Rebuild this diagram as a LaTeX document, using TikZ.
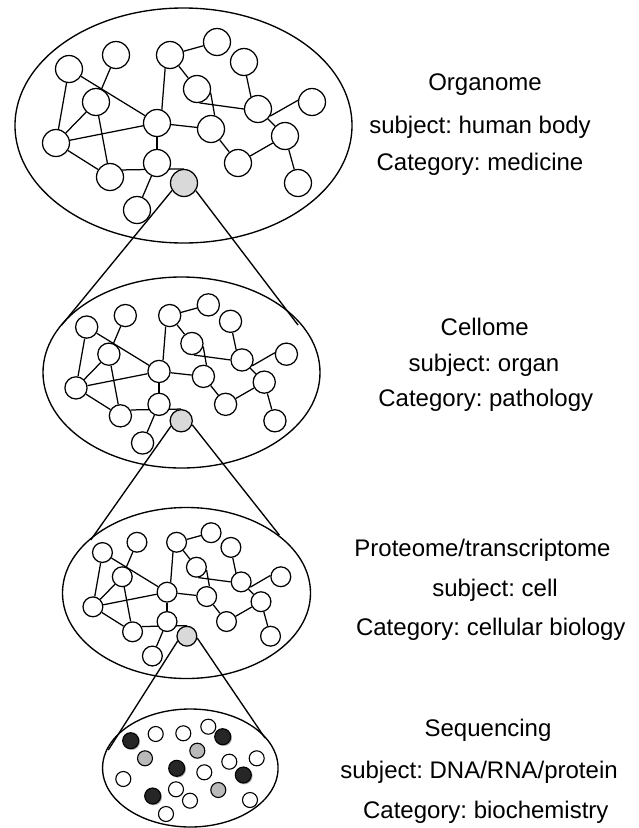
\documentclass[tikz,border=0pt]{standalone}
\usepackage{fontspec}
\setmainfont{Liberation Sans}
\frenchspacing
\usetikzlibrary{shapes.geometric,backgrounds,shadows}
\tikzset{
  netnode/.style={circle, draw=black, line width=1.25pt, fill=white, inner sep=0pt},
  hubnode/.style={netnode, fill=gray!30},
  netedge/.style={line width=1.25pt},
  ell/.style={ellipse, draw=black, line width=1.35pt, inner sep=0pt},
  cone/.style={line width=1.35pt},
  lbl/.style={anchor=base, font=\fontsize{24}{28}\selectfont, inner sep=0pt},
  wdot/.style={circle, draw=black, line width=1.1pt, fill=white, minimum size=15pt, inner sep=0pt},
  gdot/.style={wdot, fill=gray!55},
  bdot/.style={wdot, fill=black!85, minimum size=16pt,
    circular drop shadow={shadow xshift=0.7pt, shadow yshift=-0.7pt, opacity=0.35, fill=black}},
}
% #1 prefix, #2 cx, #3 cy, #4 scale
\newcommand\drawnet[4]{%
 \begin{scope}[shift={(#2,#3)}, scale=#4]
  \foreach \n/\x/\y in {1/-114.5/-56.5, 2/-67.5/-70.5, 3/-13.5/-70.5, 4/33.5/-83.5,
      5/60.5/-63.5, 6/13.5/-36.5, 7/-87.5/-23.5, 8/74.5/-16.5, 9/128.5/-23.5,
      10/-127.5/17.5, 11/-26.5/-2.5, 12/27.5/3.5, 13/101.5/10.5, 14/-26.5/37.5,
      15/54.5/37.5, 16/-73.5/51.5, 18/114.5/57.5, 19/-46.5/84.5} {
    \node[netnode, minimum size={27pt*#4}] (#1\n) at (\x,\y) {};
  }
  \node[hubnode, minimum size={27pt*#4}] (#1g) at (0.5,57.5) {};
  \begin{scope}[on background layer]
    \foreach \a/\b in {1/10, 1/11, 2/7, 7/10, 7/16, 10/11, 10/16, 3/4, 3/6,
        11/12, 11/14, 12/15, 15/13, 13/18, 14/19, 8/13}
      \draw[netedge] (#1\a) -- (#1\b);
    \draw[netedge] (#13.250) -- (#111.70);
    \draw[netedge] (#16.-15) -- (#112.75);
    \draw[netedge] (#16.-80) -- (#18.180);
    \draw[netedge] (#15.-80) -- (#18.120);
    \draw[netedge] (#18.-30) -- (#19.173);
    \draw[netedge] (#116.30) -- (#1g.north);
  \end{scope}
 \end{scope}}
\begin{document}
\begin{tikzpicture}[x=1pt,y=-1pt]
\useasboundingbox (0,0) rectangle (639,828);

% ellipses
\node[ell, minimum width=337pt, minimum height=235pt] (e1) at (183.5,125.5) {};
\node[ell, minimum width=277pt, minimum height=191pt] (e2) at (181.5,372.5) {};
\node[ell, minimum width=248pt, minimum height=171pt] (e3) at (186.5,593) {};
\node[ell, minimum width=175.5pt, minimum height=118pt] (e4) at (190.3,768) {};

% networks
\drawnet{a}{183.5}{125.5}{1}
\drawnet{b}{180.8}{373.5}{0.822}
\drawnet{c}{186.5}{594}{0.734}

% cone lines
\coordinate (c1l) at (61.7,325);
\coordinate (c1r) at (298,325);
\coordinate (c2l) at (90.7,540);
\coordinate (c2r) at (279.3,535);
\coordinate (c3l) at (108.3,750);
\coordinate (c3r) at (265,738);
\draw[cone] (ag.212) -- (c1l);
\draw[cone] (ag.-33) -- (c1r);
\draw[cone] (bg.208) -- (c2l);
\draw[cone] (bg.-20) -- (c2r);
\draw[cone] (cg.208) -- (c3l);
\draw[cone] (cg.-10) -- (c3r);

% molecules
\foreach \n/\x/\y in {1/155.7/734, 2/183.3/733.3, 3/208.3/726.7, 4/229.3/761.7,
    5/256.7/758.3, 6/204.3/772.3, 7/123.3/779, 8/176/789.3, 9/190/800.7,
    10/250/800, 11/166/814}
  \node[wdot] (w\n) at (\x,\y) {};
\foreach \n/\x/\y in {1/145/758.3, 2/197.3/750.7, 3/218.3/790}
  \node[gdot] (g\n) at (\x,\y) {};
\foreach \n/\x/\y in {1/130.7/740.7, 2/222.7/736.7, 3/176.7/768.3, 4/243.3/775, 5/152.7/796}
  \node[bdot] (k\n) at (\x,\y) {};

% labels
\node[lbl] (t1) at (485,90) {Organome};
\node[lbl] (t2) at (480,133.3) {subject: human body};
\node[lbl] (t3) at (480,170) {Category: medicine};
\node[lbl] (t4) at (484.7,335) {Cellome};
\node[lbl] (t5) at (484,371.7) {subject: organ};
\node[lbl] (t6) at (485.8,406.7) {Category: pathology};
\node[lbl] (t7) at (482.5,556.7) {Proteome/transcriptome};
\node[lbl] (t8) at (495,596.7) {subject: cell};
\node[lbl] (t9) at (490.8,635) {Category: cellular biology};
\node[lbl] (t10) at (488,736.7) {Sequencing};
\node[lbl] (t11) at (479,778.3) {subject: DNA/RNA/protein};
\node[lbl] (t12) at (485.8,818.3) {Category: biochemistry};
\end{tikzpicture}
\end{document}
